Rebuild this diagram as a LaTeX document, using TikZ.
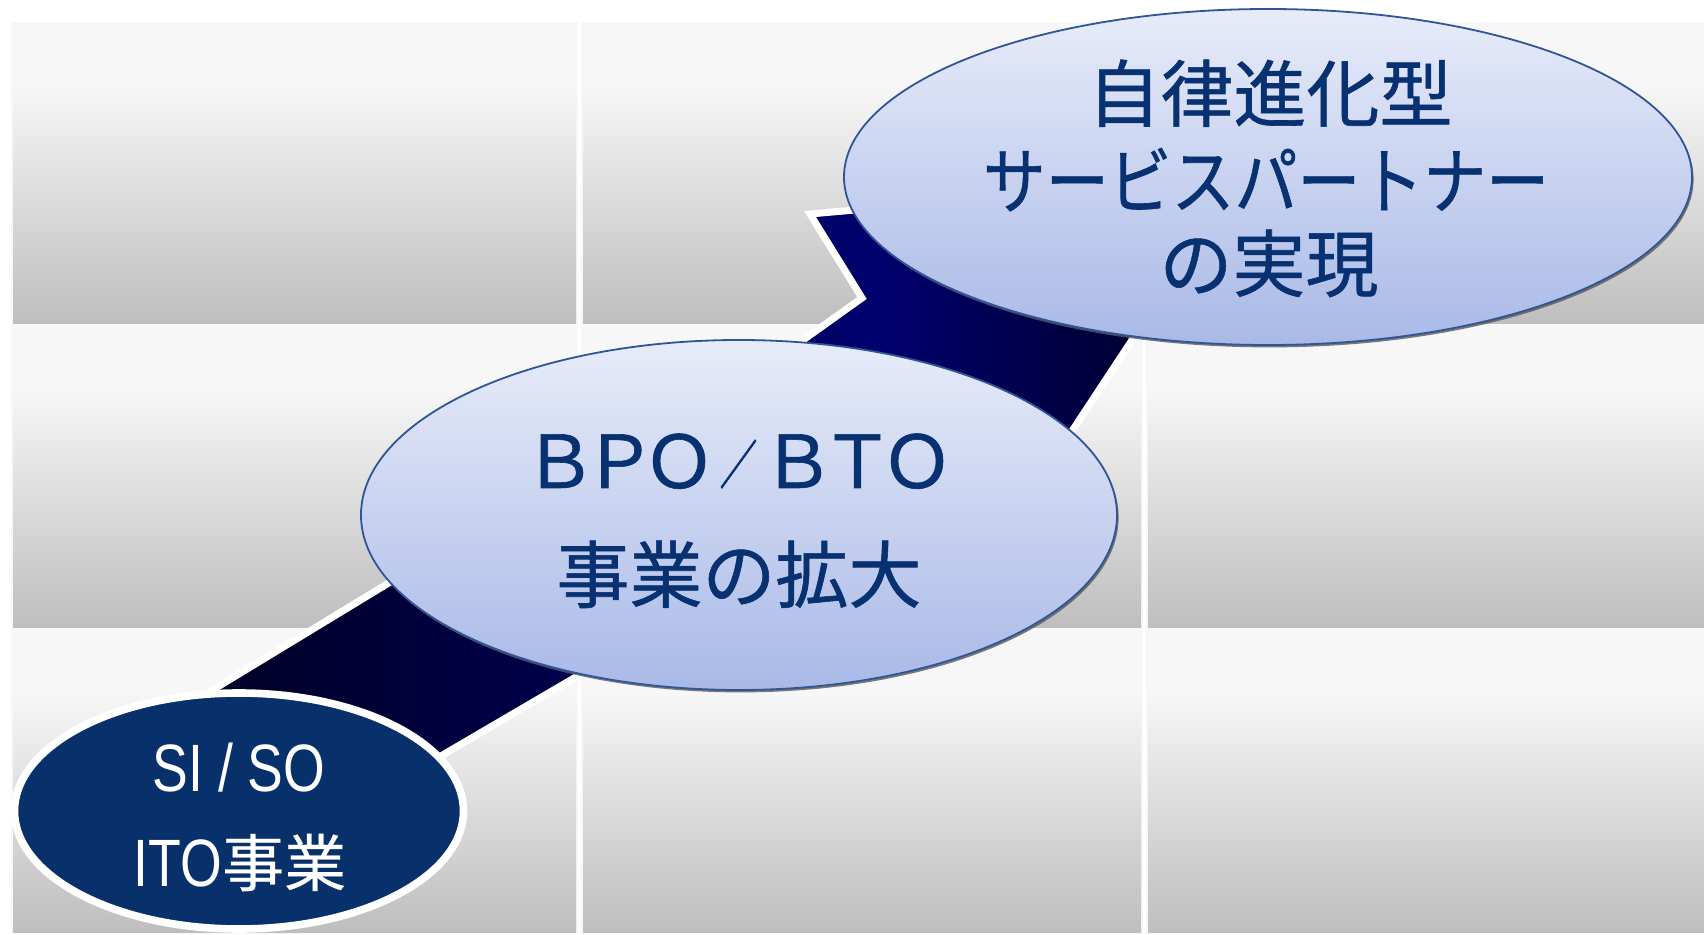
\documentclass[tikz,border=0pt]{standalone}
\usepackage{fontspec}
\usetikzlibrary{shapes.geometric,shadows}
\newfontfamily\jp[FakeBold=0.8]{Noto Sans CJK JP}
\newfontfamily\jpnarrow[FakeStretch=0.862,FakeBold=0.8]{Noto Sans CJK JP}
\newfontfamily\jpwhite[FakeBold=0.4]{Noto Sans CJK JP}
\newfontfamily\latnarrow[FakeStretch=0.8]{Liberation Sans}
\definecolor{cellTop}{HTML}{F7F7F7}
\definecolor{cellBot}{HTML}{BEBEBE}
\definecolor{lightTop}{HTML}{E8ECF9}
\definecolor{lightBot}{HTML}{A9B9E7}
\definecolor{edgeBlue}{HTML}{2F5597}
\definecolor{textBlue}{HTML}{073170}
\definecolor{darkNavy}{HTML}{08306A}
\definecolor{ribA}{HTML}{00001E}
\definecolor{ribB}{HTML}{00006E}
\definecolor{ribC}{HTML}{00002E}
\pgfdeclareverticalshading{cellshade}{100bp}{color(0bp)=(cellBot); color(25bp)=(cellBot); color(65bp)=(cellTop); color(100bp)=(cellTop)}
\pgfdeclarehorizontalshading{ribshade}{100bp}{color(0bp)=(ribA); color(25bp)=(ribA); color(61bp)=(ribB); color(75bp)=(ribC); color(100bp)=(ribC)}
\newcommand\fwbox[1]{\makebox[29.75pt]{#1}}
\newcommand\fwslash{\makebox[29.75pt]{\raisebox{2pt}{\scalebox{0.52}[0.72]{／}}}}
\begin{document}
\begin{tikzpicture}[x=0.5pt,y=-0.5pt,
  lightell/.style={ellipse, inner sep=0pt, draw=edgeBlue, line width=0.9pt,
    top color=lightTop, bottom color=lightBot,
    drop shadow={shadow xshift=0.8pt, shadow yshift=-1.2pt, fill=black!65, opacity=0.8}},
  darkell/.style={ellipse, inner sep=0pt, draw=white, line width=3.8pt, fill=darkNavy,
    drop shadow={shadow xshift=0.8pt, shadow yshift=-1.4pt, fill=black!65, opacity=0.8}},
  bluetext/.style={anchor=base, inner sep=0pt, text=textBlue},
  whitetext/.style={anchor=base, inner sep=0pt, text=white}]
\useasboundingbox (0,0) rectangle (1704,935);
\fill[white] (0,0) rectangle (1704,935);
% grid columns (light frame) and shaded cells
\foreach \xa/\xb in {11/578,581/1143,1146/1704} {
  \fill[cellTop] (\xa,22) rectangle (\xb,934);
}
\foreach \xa/\xb in {13/576,583/1141,1148/1704} {
  \foreach \ya/\yb in {23/324,326/628,630/932} {
    \shade[shading=cellshade] (\xa,\ya) rectangle (\xb,\yb);
  }
}
% ribbon
\shade[shading=ribshade, draw=white, line width=3.5pt, line join=miter]
  (150,728) -- (420,564) -- (760,369) -- (799,343) -- (862,298) -- (810,214)
  -- (900,206) -- (1150,250) -- (1160,300) -- (1134,337) -- (1072,431)
  -- (1040,482) -- (650,634) -- (581,674) -- (446,753) -- (380,792) -- cycle;
% ellipses
\node[lightell, minimum width=378pt, minimum height=175pt] (bpo) at (739,515) {};
\node[lightell, minimum width=424pt, minimum height=168pt] (goal) at (1268,177) {};
\node[darkell, minimum width=224.5pt, minimum height=118pt] (base) at (239,811) {};
% texts
\node[bluetext, font=\jp\fontsize{36.5}{40}\selectfont] (g1) at (1270,121) {自律進化型};
\node[bluetext, font=\jpnarrow\fontsize{36.5}{40}\selectfont] (g2) at (1266,208) {サービスパートナー};
\node[bluetext, font=\jp\fontsize{36.5}{40}\selectfont] (g3) at (1269,291) {の実現};
\node[bluetext, font=\jp\fontsize{36.5}{40}\selectfont] (b1) at (738.5,488) {\fwbox{Ｂ}\fwbox{Ｐ}\fwbox{Ｏ}\fwslash\fwbox{Ｂ}\fwbox{Ｔ}\fwbox{Ｏ}};
\node[bluetext, font=\jp\fontsize{36.5}{40}\selectfont] (b2) at (739,602) {事業の拡大};
\node[whitetext, font=\latnarrow\fontsize{33.5}{38}\selectfont] (s1) at (239,791) {SI / SO};
\node[whitetext, font=\latnarrow\fontsize{33.5}{38}\selectfont] (s2) at (240,886) {ITO{\jpwhite\fontsize{31}{36}\selectfont 事業}};
\end{tikzpicture}
\end{document}
